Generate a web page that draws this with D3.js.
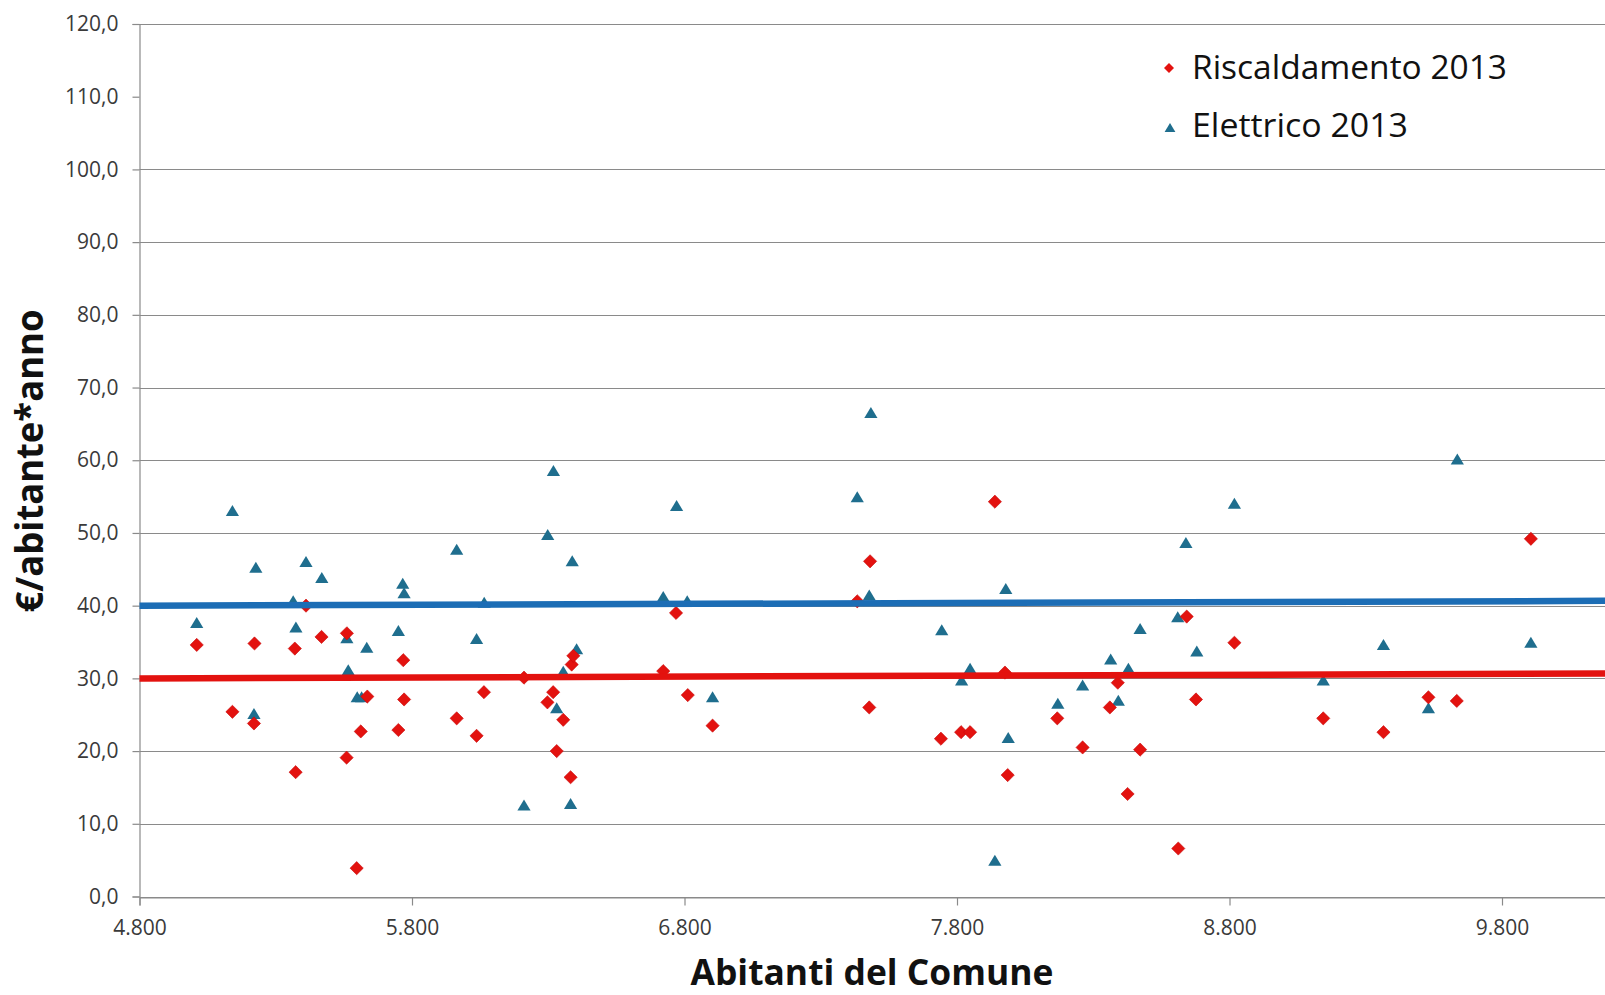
<!DOCTYPE html>
<html><head><meta charset="utf-8">
<script src="https://cdn.jsdelivr.net/npm/d3@7"></script>
<style>html,body{margin:0;padding:0;background:#fff;overflow:hidden}</style>
</head><body>
<svg id="c" width="1605" height="995"></svg>
<script>
// ---------- data ----------
const xTicks = [4800, 5800, 6800, 7800, 8800, 9800];
const yTicks = [0, 10, 20, 30, 40, 50, 60, 70, 80, 90, 100, 110, 120];
const yGridHidden = [110];
const seriesNames = ["Riscaldamento 2013", "Elettrico 2013"];
const xTitle = "Abitanti del Comune";
const yTitle = "€/abitante*anno";

const riscaldamento = [
  [5010,34.6],[5141,25.4],[5222,34.8],[5220,23.8],[5370,34.1],[5373,17.1],[5411,40.0],
  [5468,35.7],[5561,36.2],[5560,19.1],[5597,3.9],[5612,22.7],[5636,27.5],[5750,22.9],
  [5768,32.5],[5771,27.1],[5964,24.5],[6037,22.1],[6064,28.1],[6211,30.1],[6297,26.7],
  [6318,28.1],[6331,20.0],[6355,24.3],[6382,16.4],[6386,31.9],[6392,33.1],[6722,31.0],
  [6769,39.0],[6812,27.7],[6903,23.5],[7434,40.6],[7481,46.1],[7478,26.0],[7741,21.7],
  [7815,22.6],[7848,22.6],[7939,54.3],[7976,30.8],[7986,16.7],[8168,24.5],[8261,20.5],
  [8361,26.0],[8390,29.4],[8426,14.1],[8472,20.2],[8612,6.6],[8643,38.5],[8677,27.1],
  [8818,34.9],[9144,24.5],[9365,22.6],[9530,27.4],[9634,26.9],[9906,49.2]
];
const elettrico = [
  [5010,37.6],[5141,53.0],[5227,45.2],[5220,25.1],[5364,40.6],[5374,37.0],[5411,46.0],
  [5469,43.8],[5561,35.5],[5566,31.1],[5599,27.4],[5615,27.4],[5634,34.2],[5750,36.5],
  [5766,43.0],[5771,41.7],[5964,47.7],[6037,35.4],[6065,40.4],[6211,12.5],[6298,49.7],
  [6319,58.5],[6331,25.9],[6355,30.9],[6382,12.7],[6388,46.1],[6404,34.0],[6722,41.2],
  [6771,53.7],[6810,40.6],[6903,27.4],[7434,54.9],[7478,41.4],[7484,66.5],[7744,36.6],
  [7817,29.7],[7848,31.3],[7939,4.9],[7979,42.3],[7988,21.8],[8170,26.5],[8261,29.0],
  [8364,32.6],[8392,26.9],[8429,31.3],[8472,36.8],[8610,38.4],[8640,48.6],[8680,33.7],
  [8818,54.0],[9144,29.7],[9365,34.6],[9530,25.9],[9636,60.1],[9906,34.9]
];
const trendRiscaldamento = [[4800,30.0],[10178,30.66]];
const trendElettrico = [[4800,40.0],[10178,40.66]];

// ---------- setup ----------
const svg = d3.select("#c");
const loc = d3.formatLocale({decimal: ",", thousands: ".", grouping: [3], currency: ["€", ""]});
const fx = loc.format(",.0f"), fy = loc.format(".1f");
const FONT = "'Open Sans', 'Liberation Sans', sans-serif";
const GRID = "#8a8a8a";
const RED = "#e3120f", BLUE = "#1c6db5", TRI = "#1f6e8e";

const x = d3.scaleLinear().domain([4800, 10800]).range([139.5, 1774.5]);
const y = d3.scaleLinear().domain([0, 120]).range([896.5, 24]);

// gridlines
svg.append("g").selectAll("line").data(yTicks.filter(d => !yGridHidden.includes(d)))
  .join("line")
  .attr("x1", x(4800)).attr("x2", 1605)
  .attr("y1", d => Math.round(y(d)) + 0.5).attr("y2", d => Math.round(y(d)) + 0.5)
  .attr("stroke", GRID).attr("stroke-width", 1.2);

// y axis
const yAxis = d3.axisLeft(y).tickValues(yTicks).tickFormat(fy).tickSize(7).tickPadding(14);
const gy = svg.append("g").attr("transform", `translate(${x(4800)},0)`).call(yAxis);
gy.select(".domain").attr("stroke", GRID).attr("stroke-width", 1.2);
gy.selectAll(".tick line").attr("stroke", GRID).attr("stroke-width", 1.2);
gy.selectAll(".tick text").attr("font-family", FONT).attr("font-size", 21)
  .attr("fill", "#3a3a3a");

// x axis (line continues to the right edge)
const xAxis = d3.axisBottom(x).tickValues(xTicks).tickFormat(fx).tickSize(8).tickPadding(15);
const gx = svg.append("g").attr("transform", `translate(0,${Math.round(y(0)) + 0.5})`).call(xAxis);
gx.select(".domain").attr("stroke", GRID).attr("stroke-width", 1.2);
gx.selectAll(".tick line").attr("stroke", GRID).attr("stroke-width", 1.2);
gx.selectAll(".tick text").attr("font-family", FONT).attr("font-size", 21)
  .attr("fill", "#3a3a3a");

// markers
const triPath = s => `M0,${-s*0.55}L${s*0.6},${s*0.45}L${-s*0.6},${s*0.45}Z`;
const diaPath = s => `M0,${-s}L${s},0L0,${s}L${-s},0Z`;

svg.append("g").selectAll("path").data(elettrico).join("path")
  .attr("d", triPath(11))
  .attr("transform", d => `translate(${x(d[0])},${y(d[1])})`)
  .attr("fill", TRI);

svg.append("g").selectAll("path").data(riscaldamento).join("path")
  .attr("d", diaPath(6.6))
  .attr("transform", d => `translate(${x(d[0])},${y(d[1])})`)
  .attr("fill", RED).attr("stroke", "#c80a0a").attr("stroke-width", 0.6);

// trend lines
const line = d3.line().x(d => x(d[0])).y(d => y(d[1]));
svg.append("path").datum(trendElettrico).attr("d", line)
  .attr("fill", "none").attr("stroke", BLUE).attr("stroke-width", 6.5);
svg.append("path").datum(trendRiscaldamento).attr("d", line)
  .attr("fill", "none").attr("stroke", RED).attr("stroke-width", 6.5);

// legend
const lg = svg.append("g");
lg.append("path").attr("d", diaPath(5)).attr("transform", "translate(1169,68)").attr("fill", RED);
lg.append("path").attr("d", triPath(9)).attr("transform", "translate(1170,128)").attr("fill", TRI);
lg.append("text").attr("x", 1192).attr("y", 79).text(seriesNames[0])
  .attr("font-family", FONT).attr("font-size", 33).attr("fill", "#111")
  .attr("textLength", 315).attr("lengthAdjust", "spacingAndGlyphs");
lg.append("text").attr("x", 1192).attr("y", 137).text(seriesNames[1])
  .attr("font-family", FONT).attr("font-size", 33).attr("fill", "#111")
  .attr("textLength", 216).attr("lengthAdjust", "spacingAndGlyphs");

// axis titles
svg.append("text").attr("x", 872).attr("y", 985).attr("text-anchor", "middle")
  .text(xTitle).attr("font-family", FONT).attr("font-weight", "bold")
  .attr("font-size", 36).attr("fill", "#111")
  .attr("textLength", 363).attr("lengthAdjust", "spacingAndGlyphs");
svg.append("text").attr("transform", "translate(43,461) rotate(-90)")
  .attr("text-anchor", "middle").text(yTitle)
  .attr("font-family", FONT).attr("font-weight", "bold")
  .attr("font-size", 37).attr("fill", "#111")
  .attr("textLength", 303).attr("lengthAdjust", "spacingAndGlyphs");
</script>
</body></html>
